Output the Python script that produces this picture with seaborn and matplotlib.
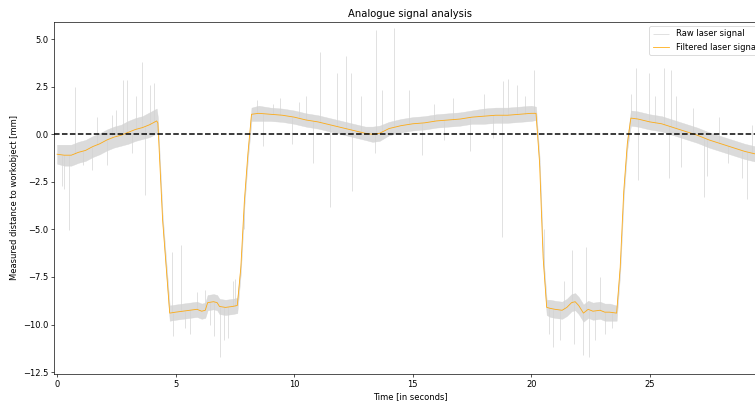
import numpy as np
import pandas as pd
import matplotlib
matplotlib.use('Agg')
import matplotlib.pyplot as plt
import seaborn as sns

# filtered laser signal (time in s, distance in mm)
filt_t = [0.0, 0.3, 0.6, 0.9, 1.2, 1.5, 1.8, 2.1, 2.4, 2.7, 3.0, 3.3, 3.6, 3.9, 4.2,
          4.25, 4.45, 4.75, 5.0, 5.3, 5.6, 5.9, 6.1, 6.25, 6.35, 6.6, 6.75, 6.85, 7.1, 7.4, 7.6,
          7.75, 7.9, 8.05, 8.2, 8.5, 9.0, 9.5, 10.0, 10.5, 11.0, 11.5, 12.0, 12.5, 13.0, 13.3,
          13.6, 14.0, 14.5, 15.0, 15.5, 16.0, 16.5, 17.0, 17.5, 18.0, 18.5, 19.0, 19.5, 20.0,
          20.2, 20.35, 20.5, 20.65, 20.8, 21.0, 21.3, 21.5, 21.7, 21.85, 22.0, 22.2, 22.4,
          22.6, 22.9, 23.1, 23.3, 23.6, 23.75, 23.9, 24.05, 24.2, 24.5, 25.0, 25.5, 26.0,
          26.5, 27.0, 27.5, 28.0, 28.5, 29.0, 29.5, 29.9]
filt_y = [-1.05, -1.1, -1.1, -0.95, -0.85, -0.65, -0.5, -0.3, -0.15, -0.05, 0.1, 0.25, 0.35, 0.5, 0.7,
          0.6, -4.5, -9.4, -9.35, -9.3, -9.25, -9.2, -9.3, -9.25, -8.85, -8.8, -8.85, -9.05, -9.1, -9.05, -9.0,
          -7.0, -3.5, -1.0, 1.05, 1.1, 1.05, 1.0, 0.9, 0.75, 0.65, 0.5, 0.35, 0.2, 0.05, 0.0,
          0.05, 0.3, 0.45, 0.55, 0.6, 0.7, 0.75, 0.8, 0.9, 0.95, 1.0, 1.0, 1.05, 1.1,
          1.1, -1.5, -6.5, -9.1, -9.15, -9.2, -9.25, -9.1, -8.85, -8.8, -9.0, -9.4, -9.2,
          -9.3, -9.25, -9.35, -9.35, -9.4, -7.0, -3.0, -0.5, 0.85, 0.8, 0.65, 0.55, 0.35,
          0.15, -0.05, -0.3, -0.5, -0.7, -0.9, -1.05, -1.1]

# half width of the dense raw-signal noise band around the filtered line
noise_hw = [0.5, 0.55, 0.55, 0.55, 0.55, 0.55, 0.55, 0.55, 0.55, 0.55, 0.6, 0.6, 0.6, 0.65, 0.65,
            0.3, 0.3, 0.4, 0.4, 0.4, 0.4, 0.4, 0.4, 0.4, 0.4, 0.4, 0.4, 0.4, 0.4, 0.4, 0.4,
            0.3, 0.3, 0.3, 0.35, 0.4, 0.35, 0.35, 0.35, 0.35, 0.35, 0.35, 0.35, 0.35, 0.35, 0.4,
            0.4, 0.35, 0.35, 0.35, 0.35, 0.35, 0.35, 0.35, 0.35, 0.4, 0.4, 0.4, 0.4, 0.4,
            0.35, 0.3, 0.3, 0.4, 0.45, 0.45, 0.45, 0.45, 0.45, 0.45, 0.45, 0.45, 0.45,
            0.45, 0.45, 0.45, 0.45, 0.4, 0.3, 0.3, 0.3, 0.4, 0.4, 0.4, 0.4, 0.4,
            0.4, 0.4, 0.4, 0.4, 0.4, 0.4, 0.4, 0.4]

# outlier spikes of the raw signal (time, peak value)
spike_t = [0.2, 0.3, 0.5, 0.76, 1.1, 1.48, 1.7, 2.1, 2.3, 2.5, 2.8, 2.95, 3.15, 3.33, 3.6, 3.7, 3.9, 4.1,
           4.85, 4.9, 5.23, 5.4, 5.6, 5.9, 6.25, 6.45, 6.6, 6.88, 7.05, 7.2, 7.4, 7.5, 7.9,
           8.45, 8.7, 9.1, 9.4, 9.9, 10.2, 10.5, 10.8, 11.1, 11.5, 11.8, 12.2, 12.4, 12.45, 12.8, 13.4,
           13.45, 13.7, 14.2, 14.85, 15.4, 15.9, 16.3, 16.7, 17.4, 18.0, 18.4, 18.75, 18.8, 19.0, 19.4,
           19.75, 20.1,
           20.55, 20.75, 20.9, 21.2, 21.4, 21.7, 21.8, 22.2, 22.3, 22.45, 22.7, 22.9, 23.1, 23.4,
           24.2, 24.4, 24.5, 24.95, 25.2, 25.6, 25.8, 25.9, 26.1, 26.3, 26.8, 27.3, 27.4,
           27.9, 28.3, 28.9, 29.1, 29.3]
spike_y = [-2.7, -2.9, -5.05, 2.5, -1.6, -1.9, 0.9, -1.6, 1.0, 1.3, 2.85, 2.85, -1.0, 2.0, 3.8, -3.2, 2.6, 2.7,
           -6.2, -10.6, -5.8, -10.2, -10.5, -8.3, -8.2, -10.0, -10.6, -11.7, -10.8, -10.7, -7.7, -7.6, -5.0,
           1.8, -0.6, 1.6, 1.9, -0.5, 1.7, 2.0, -1.5, 4.3, -3.8, 3.2, 4.1, 3.2, -3.0, 2.0, -1.0,
           5.5, 2.3, 5.6, 2.3, -1.1, 1.6, -0.3, 1.9, -0.9, 2.1, -0.2, -5.4, 2.8, 2.9, 2.6,
           2.0, 3.4,
           -5.0, -10.5, -11.2, -10.8, -7.7, -6.1, -11.0, -11.6, -5.9, -11.7, -10.8, -7.5, -10.5, -10.2,
           2.1, 3.5, -2.4, 3.2, 2.0, 3.5, -2.3, 3.4, 2.0, -1.7, 1.4, -3.3, -2.2,
           0.9, -1.5, -2.3, -3.4, 0.5]

df = pd.DataFrame({'Time': filt_t, 'Filtered': filt_y})
lo = np.array(filt_y) - np.array(noise_hw)
hi = np.array(filt_y) + np.array(noise_hw)
spike_base = np.interp(spike_t, filt_t, filt_y)

# big figure rendered at low dpi -> small text, thin lines
fig = plt.figure(figsize=(7.55 / 0.6, 4.01 / 0.6), dpi=60)
ax = fig.add_axes([54 / 755, 27 / 401, 712 / 755, 352 / 401])

ax.fill_between(filt_t, lo, hi, color='lightgray', alpha=0.8, linewidth=0.5)
ax.vlines(spike_t, spike_base, spike_y, color='lightgray', linewidth=0.8, label='Raw laser signal')
sns.lineplot(data=df, x='Time', y='Filtered', ax=ax, color='orange', linewidth=1,
             alpha=0.9, label='Filtered laser signal')
ax.axhline(0, color='black', linestyle='--', linewidth=1.8)

ax.set_xlim(-0.13, 29.9)
ax.set_ylim(-12.6, 5.9)
ax.set_yticks([-12.5, -10.0, -7.5, -5.0, -2.5, 0.0, 2.5, 5.0])
ax.set_title('Analogue signal analysis')
ax.set_xlabel('Time [in seconds]')
ax.set_ylabel('Measured distance to workobject [mm]')
ax.legend(loc='upper right')

fig.savefig('out.png', dpi=60)
